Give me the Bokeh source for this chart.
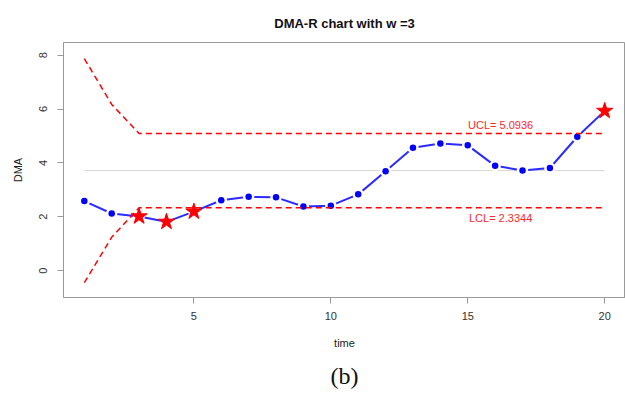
from bokeh.plotting import figure
from bokeh.models import Range1d, FixedTicker, Title, Label
from bokeh.embed import file_html
from bokeh.resources import INLINE

# ---- data ----
time = list(range(1, 21))
dma = [2.58, 2.12, 2.01, 1.81, 2.19, 2.61, 2.74, 2.72, 2.38, 2.41,
       2.83, 3.69, 4.56, 4.72, 4.65, 3.89, 3.72, 3.81, 4.97, 5.93]
ucl = [7.87, 6.17] + [5.0936] * 18
lcl = [-0.45, 1.24] + [2.3344] * 18
cl_value = 3.7140
ucl_label = "UCL= 5.0936"
lcl_label = "LCL= 2.3344"
x_ticks = [5, 10, 15, 20]
y_ticks = [0, 2, 4, 6, 8]
title_text = "DMA-R chart with w =3"
caption_text = "(b)"

out_t = [t for t, v, u, l in zip(time, dma, ucl, lcl) if t >= 3 and (v > u or v < l)]
out_v = [v for t, v, u, l in zip(time, dma, ucl, lcl) if t >= 3 and (v > u or v < l)]

FONT = "Liberation Sans"
AX = "#9a9a9a"

x_range = Range1d(0.24, 20.76)
y_range = Range1d(-1.0, 8.47)
p = figure(width=625, height=398, output_backend="svg", toolbar_location=None,
           x_range=x_range, y_range=y_range,
           min_border_left=63, min_border_right=0, min_border_top=42, min_border_bottom=99)
p.background_fill_color = "white"
p.border_fill_color = "white"
p.outline_line_color = AX
p.outline_line_width = 1
p.xgrid.visible = False
p.ygrid.visible = False

p.title.text = title_text
p.title.align = "center"
p.title.text_font = FONT
p.title.text_font_size = "13px"
p.title.text_font_style = "bold"
p.title.text_color = "#111111"
p.title.standoff = 24

for ax in (p.xaxis[0], p.yaxis[0]):
    ax.axis_line_color = AX
    ax.major_tick_line_color = AX
    ax.minor_tick_line_color = None
    ax.major_tick_out = 6
    ax.major_tick_in = 0
    ax.major_label_text_font = FONT
    ax.major_label_text_font_size = "11px"
    ax.major_label_text_color = "#333333"
    ax.axis_label_text_font = FONT
    ax.axis_label_text_font_size = "11px"
    ax.axis_label_text_font_style = "normal"
    ax.axis_label_text_color = "#222222"

p.xaxis.ticker = FixedTicker(ticks=x_ticks)
p.yaxis.ticker = FixedTicker(ticks=y_ticks)
p.xaxis.axis_label = "time"
p.yaxis.axis_label = "DMA"
p.xaxis.major_label_standoff = 8
p.xaxis.axis_label_standoff = 14
p.yaxis.major_label_orientation = "vertical"
p.yaxis.major_label_standoff = 10
p.yaxis.axis_label_standoff = 13

# centre line
p.line([time[0], time[-1]], [cl_value, cl_value], line_color="#d6d6d6", line_width=1)

# DMA series (type "b": line with gaps at points)
p.line(time, dma, line_color="#2b2bff", line_width=2)
p.scatter(time, dma, marker="circle", size=6.5, fill_color=None,
          line_color="white", line_width=5)
p.scatter(time, dma, marker="circle", size=6.5, fill_color="blue", line_color=None)

# control limits
p.line(time, ucl, line_color="red", line_width=1.5, line_dash="6 4")
p.line(time, lcl, line_color="red", line_width=1.5, line_dash="6 4")

# out-of-control points
p.scatter(out_t, out_v, marker="star", size=17, fill_color="red", line_color="red")

p.add_layout(Label(x=16.2, y=ucl[-1], y_offset=8, text=ucl_label, text_align="center",
                   text_baseline="middle", text_color="#ff2a2a", text_font=FONT,
                   text_font_size="11px"))
p.add_layout(Label(x=16.2, y=lcl[-1], y_offset=-10, text=lcl_label, text_align="center",
                   text_baseline="middle", text_color="#ff2a2a", text_font=FONT,
                   text_font_size="11px"))

# figure caption below the axis
cap = Title(text=caption_text, align="center", text_font="Liberation Serif",
            text_font_size="24px", text_font_style="normal", text_color="#111111",
            standoff=19)
p.add_layout(cap, "below")

open("out.html", "w").write(file_html(p, INLINE))
